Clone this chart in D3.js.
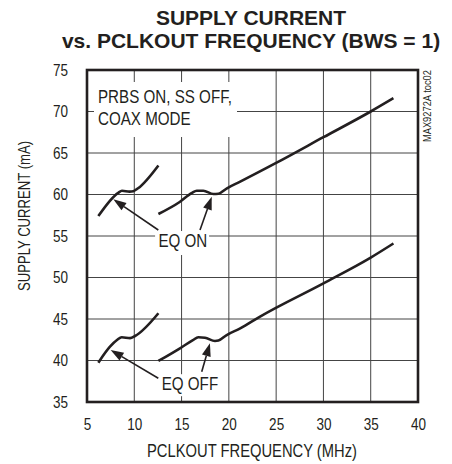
<!DOCTYPE html>
<html>
<head>
<meta charset="utf-8">
<script src="https://cdn.jsdelivr.net/npm/d3@7"></script>
<style>
  body { margin: 0; background: #fff; }
  text { font-family: "Liberation Sans", Arial, sans-serif; }
</style>
</head>
<body>
<div class="chart"></div>
<script>
// x ticks / y ticks
const xTicks = [5, 10, 15, 20, 25, 30, 35, 40];
const yTicks = [35, 40, 45, 50, 55, 60, 65, 70, 75];

// EQ ON, low range segment and high range segment
const eqOnLowX = [6.2, 8.3, 8.7, 9.5, 9.9, 10.4, 12.55];
const eqOnLowY = [57.4, 60.2, 60.45, 60.35, 60.4, 60.75, 63.5];
const eqOnHighX = [12.55, 14.8, 16.1, 16.6, 17.3, 18.36, 18.9, 19.8, 21.2, 25, 30, 35, 37.4];
const eqOnHighY = [57.65, 59.1, 60.2, 60.46, 60.46, 60.06, 60.1, 60.75, 61.55, 63.8, 66.9, 70.0, 71.6];

// EQ OFF
const eqOffLowX = [6.2, 7.43, 8.2, 8.67, 9.55, 10.08, 12.55];
const eqOffLowY = [39.74, 41.66, 42.5, 42.8, 42.7, 42.95, 45.69];
const eqOffHighX = [12.55, 14.83, 16.2, 16.77, 17.48, 18.53, 18.9, 19.77, 21.2, 23.3, 30, 35, 37.4];
const eqOffHighY = [39.94, 41.47, 42.45, 42.8, 42.75, 42.35, 42.4, 43.07, 43.87, 45.3, 49.3, 52.4, 54.1];

// annotation arrows: [tailX, tailY, tipX, tipY]
const arrows = [
    [12.54, 55.72, 7.78, 59.42],
    [16.95, 55.72, 18.19, 59.73],
    [12.54, 37.86, 7.5, 41.27],
    [17.13, 38.65, 18.0, 42.07]
];

const width = 452, height = 464;
const margin = { top: 70, right: 34, bottom: 62, left: 87 };
const squeeze = 0.82; // the original uses a narrow face

const svg = d3.select(".chart").append("svg").attr("width", width).attr("height", height);

const x = d3.scaleLinear().domain([5, 40]).range([margin.left, width - margin.right]);
const y = d3.scaleLinear().domain([35, 75]).range([height - margin.bottom, margin.top]);

// narrow text placed at px,py, optional rotation
const narrow = (px, py, size, str, anchor = "start", rot = 0) => {
    const g = svg.append("g").attr("transform", `translate(${px},${py}) rotate(${rot}) scale(${squeeze},1)`);
    return g.append("text").attr("text-anchor", anchor).attr("font-size", size).attr("fill", "#231f20").text(str);
};

// title
svg.append("text").attr("x", 251).attr("y", 25).attr("text-anchor", "middle")
    .attr("font-weight", "bold").attr("font-size", 21)
    .attr("fill", "#231f20").text("SUPPLY CURRENT");
svg.append("text").attr("x", 251).attr("y", 48).attr("text-anchor", "middle")
    .attr("font-weight", "bold").attr("font-size", 21)
    .attr("fill", "#231f20").text("vs. PCLKOUT FREQUENCY (BWS = 1)");

// grid
const grid = svg.append("g").attr("stroke", "#444").attr("stroke-width", 1);
grid.selectAll(".vx").data(xTicks.slice(1, -1)).enter().append("line")
    .attr("x1", d => x(d)).attr("x2", d => x(d)).attr("y1", y(35)).attr("y2", y(75));
grid.selectAll(".hy").data(yTicks.slice(1, -1)).enter().append("line")
    .attr("x1", x(5)).attr("x2", x(40)).attr("y1", d => y(d)).attr("y2", d => y(d));

// white label boxes that hide grid
svg.append("rect").attr("x", 94).attr("y", 82).attr("width", 143).attr("height", 55).attr("fill", "#fff");
svg.append("rect").attr("x", x(12.2)).attr("y", y(55.6)).attr("width", 54).attr("height", 24).attr("fill", "#fff");
svg.append("rect").attr("x", x(12.6)).attr("y", y(38.35)).attr("width", 62).attr("height", 22).attr("fill", "#fff");

// axes
const xAxis = d3.axisBottom(x).tickValues(xTicks).tickSize(0).tickPadding(16);
const yAxis = d3.axisLeft(y).tickValues(yTicks).tickSize(0).tickPadding(23);
const gx = svg.append("g").attr("transform", `translate(0,${y(35)})`).call(xAxis);
const gy = svg.append("g").attr("transform", `translate(${x(5)},0)`).call(yAxis);
[gx, gy].forEach(g => {
    g.select(".domain").remove();
    g.selectAll("text").attr("font-family", null).attr("font-size", 16.5).attr("fill", "#231f20")
        .attr("transform", `scale(${squeeze},1)`);
});
gx.attr("font-family", null);
gy.attr("font-family", null);

// frame
svg.append("rect").attr("x", x(5)).attr("y", y(75)).attr("width", x(40) - x(5)).attr("height", y(35) - y(75))
    .attr("fill", "none").attr("stroke", "#231f20").attr("stroke-width", 2.6);

// axis titles
narrow(252, 457, 18, "PCLKOUT FREQUENCY (MHz)", "middle");
narrow(30, 216, 16, "SUPPLY CURRENT (mA)", "middle", -90);
narrow(431, 70, 11.4, "MAX9272A toc02", "end", -90);

// curves
const line = d3.line().x(d => x(d[0])).y(d => y(d[1])).curve(d3.curveMonotoneX);
const series = [[eqOnLowX, eqOnLowY], [eqOnHighX, eqOnHighY], [eqOffLowX, eqOffLowY], [eqOffHighX, eqOffHighY]];
svg.selectAll(".curve").data(series).enter().append("path")
    .attr("class", "curve")
    .attr("d", s => line(s[0].map((v, i) => [v, s[1][i]])))
    .attr("fill", "none").attr("stroke", "#231f20").attr("stroke-width", 2.6).attr("stroke-linejoin", "round");

// annotation text
narrow(98, 103, 18.5, "PRBS ON, SS OFF,");
narrow(98, 125, 18.5, "COAX MODE");
narrow(x(12.55), y(53.7), 18.5, "EQ ON");
narrow(x(12.9), y(36.4), 18.5, "EQ OFF");

// arrows
arrows.forEach(a => {
    const x0 = x(a[0]), y0 = y(a[1]), x1 = x(a[2]), y1 = y(a[3]);
    const ang = Math.atan2(y1 - y0, x1 - x0);
    const len = 13, half = 4.5;
    const bx = x1 - len * Math.cos(ang), by = y1 - len * Math.sin(ang);
    svg.append("line").attr("x1", x0).attr("y1", y0).attr("x2", bx).attr("y2", by)
        .attr("stroke", "#231f20").attr("stroke-width", 1.6);
    const pts = [
        [x1, y1],
        [bx + half * Math.sin(ang), by - half * Math.cos(ang)],
        [bx - half * Math.sin(ang), by + half * Math.cos(ang)]
    ];
    svg.append("path").attr("d", "M" + pts.join("L") + "Z").attr("fill", "#231f20");
});
</script>
</body>
</html>
